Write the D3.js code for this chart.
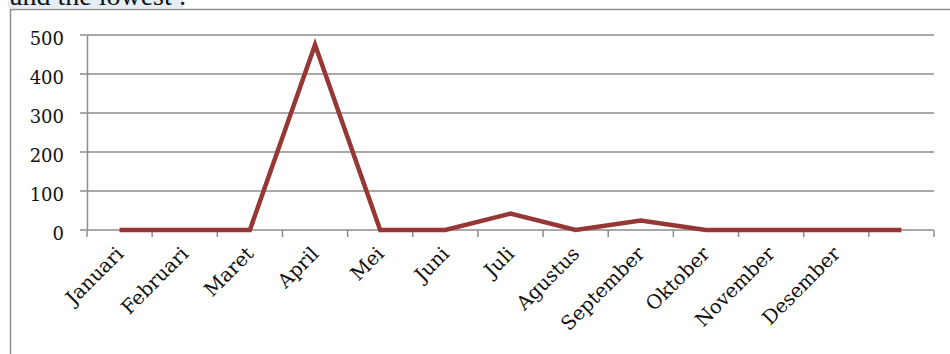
<!DOCTYPE html>
<html>
<head>
<meta charset="utf-8">
<script src="https://cdn.jsdelivr.net/npm/d3@7"></script>
<style>
  body { margin: 0; background: #fff; }
  svg { display: block; }
</style>
</head>
<body>
<svg width="950" height="354"></svg>
<script>
//Chart Data
const months = ["Januari", "Februari", "Maret", "April", "Mei", "Juni", "Juli",
                "Agustus", "September", "Oktober", "November", "Desember", ""];
const values = [0, 0, 0, 475, 0, 0, 42, 0, 24, 0, 0, 0, 0];
const yTicks = [0, 100, 200, 300, 400, 500];

const plotLeft = 87;
const plotRight = 934;
const plotTop = 35;
const plotBottom = 230;

const chart = d3.select("svg");

//Heading text cut off by the page edge
chart.append("rect")
     .attr("x", 8).attr("y", 0)
     .attr("width", 175).attr("height", 8)
     .attr("fill", "#e3eef8");
chart.append("text")
     .attr("x", 10)
     .attr("y", 5)
     .style("font-family", "'Liberation Serif', serif")
     .style("font-size", "28px")
     .attr("fill", "#111")
     .text("and the lowest :");

//Frame
chart.append("path")
     .attr("d", "M10.5,354 V9.5 H950")
     .attr("fill", "none")
     .attr("stroke", "#8c8c8c")
     .attr("stroke-width", 1.5);

//Scales
const xScale = d3.scaleBand()
                 .domain(months)
                 .range([plotLeft, plotRight])
                 .padding(0);
const yScale = d3.scaleLinear()
                 .domain([0, 500])
                 .range([plotBottom, plotTop]);

//Gridlines
chart.append("g")
     .selectAll("line")
     .data(yTicks)
     .enter()
     .append("line")
     .attr("x1", plotLeft - 7)
     .attr("x2", plotRight)
     .attr("y1", (d) => yScale(d))
     .attr("y2", (d) => yScale(d))
     .attr("stroke", "#8c8c8c")
     .attr("stroke-width", 1.5);

//Y axis
const yAxis = chart.append("g")
     .attr("transform", "translate(" + plotLeft + ", 0)")
     .call(d3.axisLeft(yScale).tickValues(yTicks).tickSize(0).tickPadding(23));
yAxis.select(".domain").attr("stroke", "#8c8c8c").attr("stroke-width", 1.5);
yAxis.selectAll("text")
     .attr("dy", "0.5em")
     .style("font-family", "'DejaVu Serif', serif")
     .style("font-size", "18px")
     .attr("fill", "#111");

//X axis: ticks on band edges
chart.append("g")
     .selectAll("line")
     .data(months.map((m) => xScale(m)).concat([plotRight]))
     .enter()
     .append("line")
     .attr("x1", (d) => d)
     .attr("x2", (d) => d)
     .attr("y1", plotBottom)
     .attr("y2", plotBottom + 7)
     .attr("stroke", "#8c8c8c")
     .attr("stroke-width", 1.5);

chart.append("g")
     .selectAll("text")
     .data(months)
     .enter()
     .append("text")
     .attr("transform", (d) => "translate(" + (xScale(d) + xScale.bandwidth() / 2 + 5) + "," + (plotBottom + 25) + ") rotate(-45)")
     .attr("text-anchor", "end")
     .style("font-family", "'DejaVu Serif', serif")
     .style("font-size", "19.5px")
     .attr("fill", "#111")
     .text((d) => d);

//Line
const line = d3.line()
               .x((d, i) => xScale(months[i]) + xScale.bandwidth() / 2)
               .y((d) => yScale(d));

chart.append("path")
     .datum(values)
     .attr("d", line)
     .attr("fill", "none")
     .attr("stroke", "#953735")
     .attr("stroke-width", 4.5)
     .attr("stroke-linejoin", "miter");
</script>
</body>
</html>
